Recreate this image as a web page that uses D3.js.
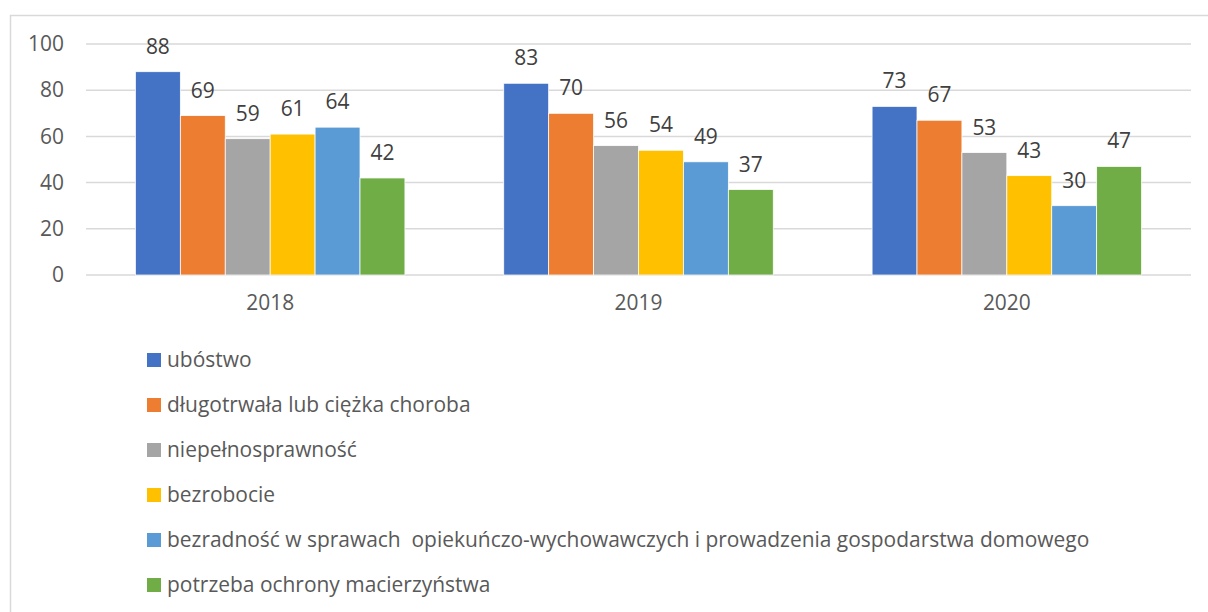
<!DOCTYPE html>
<html>
<head>
<meta charset="utf-8">
<script src="https://cdn.jsdelivr.net/npm/d3@7"></script>
<style>
  html, body { margin: 0; padding: 0; background: #fff; }
  svg text { font-family: "Open Sans", sans-serif; }
</style>
</head>
<body>
<svg id="chart" width="1208" height="612"></svg>
<script>
// Chart data
const years = ['2018', '2019', '2020'];
const seriesNames = [
    'ubóstwo',
    'długotrwała lub ciężka choroba',
    'niepełnosprawność',
    'bezrobocie',
    'bezradność w sprawach  opiekuńczo-wychowawczych i prowadzenia gospodarstwa domowego',
    'potrzeba ochrony macierzyństwa'
];
const seriesColors = ['#4472c4', '#ed7d31', '#a5a5a5', '#ffc000', '#5b9bd5', '#70ad47'];
const ubostwo = [88, 83, 73];
const choroba = [69, 70, 67];
const niepelnosprawnosc = [59, 56, 53];
const bezrobocie = [61, 54, 43];
const bezradnosc = [64, 49, 30];
const macierzynstwo = [42, 37, 47];
const seriesValues = [ubostwo, choroba, niepelnosprawnosc, bezrobocie, bezradnosc, macierzynstwo];
const yTicks = [0, 20, 40, 60, 80, 100];

const svg = d3.select('#chart');

// Outer frame (continues past right and bottom edge)
svg.append('rect')
    .attr('x', 10.5).attr('y', 15.5)
    .attr('width', 1300).attr('height', 700)
    .attr('fill', '#fff')
    .attr('stroke', '#d9d9d9')
    .attr('stroke-width', 1.5);

const plot = { left: 86, right: 1191, top: 44, bottom: 275 };

const x0 = d3.scaleBand()
    .domain(years)
    .range([plot.left, plot.right]);

const x1 = d3.scaleBand()
    .domain(d3.range(seriesNames.length))
    .range([0, x0.bandwidth()])
    .paddingOuter(1.1);

const y = d3.scaleLinear()
    .domain([0, 100])
    .range([plot.bottom, plot.top]);

// Grid lines
svg.append('g')
    .selectAll('line')
    .data(yTicks)
    .join('line')
    .attr('x1', plot.left).attr('x2', plot.right)
    .attr('y1', d => y(d)).attr('y2', d => y(d))
    .attr('stroke', '#d9d9d9')
    .attr('stroke-width', 1.5);

// Y axis labels
const yAxis = svg.append('g')
    .attr('transform', `translate(${plot.left - 22},0)`)
    .call(d3.axisLeft(y).tickValues(yTicks).tickSize(0).tickPadding(0));
yAxis.select('.domain').remove();
yAxis.selectAll('text')
    .attr('fill', '#595959')
    .style('font-family', '"Open Sans", sans-serif');

// X axis labels
const xAxis = svg.append('g')
    .attr('transform', `translate(0,${plot.bottom + 20})`)
    .call(d3.axisBottom(x0).tickSize(0).tickPadding(0));
xAxis.select('.domain').remove();
xAxis.selectAll('text')
    .attr('fill', '#595959')
    .attr('dy', '0.71em')
    .style('font-family', '"Open Sans", sans-serif');

// Bars
const flat = [];
years.forEach((yr, i) => {
    seriesValues.forEach((vals, s) => {
        flat.push({ year: yr, s: s, v: vals[i] });
    });
});

svg.append('g')
    .selectAll('rect')
    .data(flat)
    .join('rect')
    .attr('x', d => x0(d.year) + x1(d.s))
    .attr('y', d => y(d.v))
    .attr('width', x1.bandwidth())
    .attr('height', d => y(0) - y(d.v))
    .attr('fill', d => seriesColors[d.s])
    .attr('stroke', '#fff')
    .attr('stroke-width', 0.75);

// Data labels
svg.append('g')
    .selectAll('text')
    .data(flat)
    .join('text')
    .attr('x', d => x0(d.year) + x1(d.s) + x1.bandwidth() / 2)
    .attr('y', d => y(d.v) - 18)
    .attr('text-anchor', 'middle')
    .attr('fill', '#404040')
    .text(d => d.v);

// Legend
const legend = svg.append('g')
    .selectAll('g')
    .data(seriesNames)
    .join('g')
    .attr('transform', (d, i) => `translate(147,${360 + i * 45})`);

legend.append('rect')
    .attr('x', 0).attr('y', -7)
    .attr('width', 14).attr('height', 14)
    .attr('fill', (d, i) => seriesColors[i]);

const legendText = legend.append('text')
    .attr('x', 20)
    .attr('dy', '0.35em')
    .attr('fill', '#595959')
    .style('white-space', 'pre')
    .text(d => d);

// Fit font size so the long legend entry spans like the reference (~923px)
svg.selectAll('text').style('font-size', '19px');
const longest = legendText.filter((d, i) => i === 4).node();
const w = longest.getComputedTextLength();
const fs = Math.max(16, Math.min(21, 19 * 923 / w));
svg.selectAll('text').style('font-size', fs + 'px');
</script>
</body>
</html>
